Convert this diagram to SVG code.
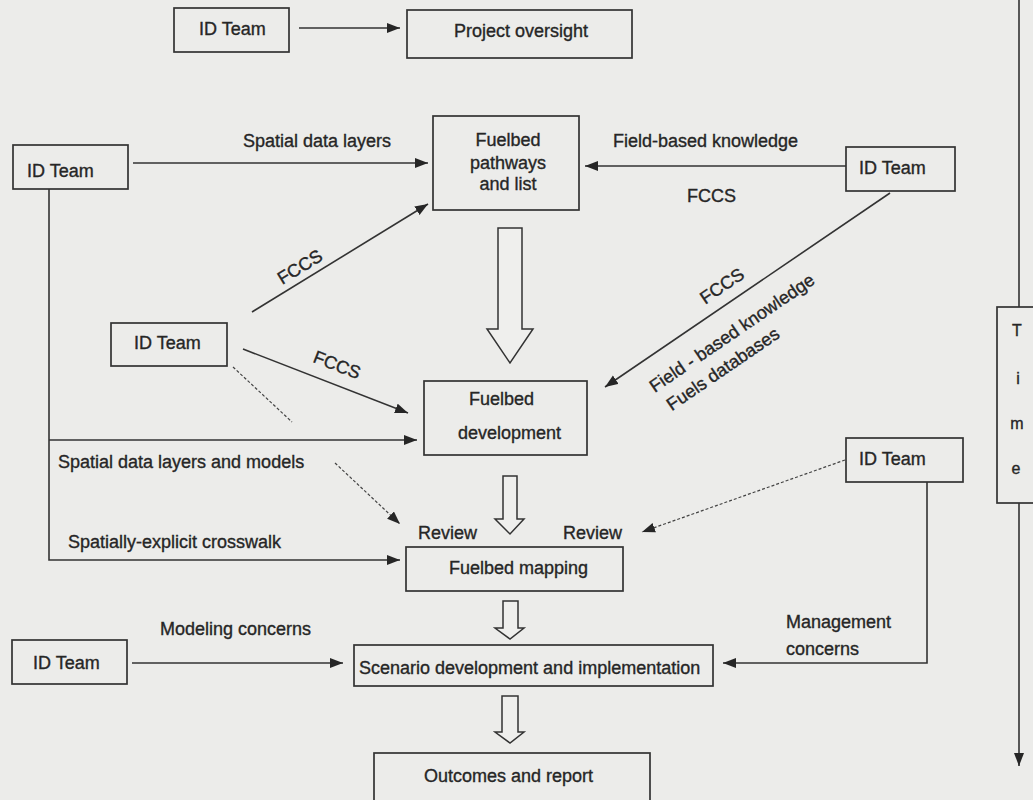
<svg xmlns="http://www.w3.org/2000/svg" width="1033" height="800" viewBox="0 0 1033 800">
<defs>
<marker id="ah" markerUnits="userSpaceOnUse" markerWidth="14" markerHeight="11" refX="13" refY="5" orient="auto">
<path d="M0,0 L13,5 L0,10 Z" fill="#262626"/>
</marker>
</defs>
<style>
text{font-family:"Liberation Sans",Arial,sans-serif;font-size:18px;fill:#262626;stroke:#262626;stroke-width:0.35}
.box{fill:none;stroke:#333;stroke-width:1.7}
.ln{fill:none;stroke:#333;stroke-width:1.6}
.dash{fill:none;stroke:#444;stroke-width:1.2;stroke-dasharray:3 2}
.blk{fill:#efefed;stroke:#333;stroke-width:1.5}
.m{text-anchor:middle}
</style>
<rect width="1033" height="800" fill="#ececea"/>

<g id="connectors">
<line class="ln" x1="299" y1="28" x2="400" y2="28" marker-end="url(#ah)"/>
<line class="ln" x1="133" y1="163" x2="428" y2="163" marker-end="url(#ah)"/>
<line class="ln" x1="846" y1="166" x2="585" y2="166" marker-end="url(#ah)"/>
<line class="ln" x1="890" y1="193" x2="605" y2="387" marker-end="url(#ah)"/>
<line class="ln" x1="252" y1="312" x2="428" y2="204" marker-end="url(#ah)"/>
<line class="ln" x1="243" y1="349" x2="408" y2="413" marker-end="url(#ah)"/>
<line class="dash" x1="233" y1="367" x2="292" y2="422"/>
<polyline class="ln" points="49,189 49,560 400,560" marker-end="url(#ah)"/>
<line class="ln" x1="49" y1="440" x2="417" y2="440" marker-end="url(#ah)"/>
<line class="dash" x1="335" y1="463" x2="400" y2="524" marker-end="url(#ah)"/>
<line class="dash" x1="845" y1="460" x2="642" y2="532" marker-end="url(#ah)"/>
<polyline class="ln" points="927,482 927,663 723,663" marker-end="url(#ah)"/>
<line class="ln" x1="132" y1="663" x2="343" y2="663" marker-end="url(#ah)"/>
<line class="ln" x1="1019" y1="0" x2="1019" y2="307"/>
<line class="ln" x1="1019" y1="503" x2="1019" y2="766" marker-end="url(#ah)"/>
<path class="blk" d="M498,228 H522 V329 H533 L510,363 L487,329 H498 Z"/>
<path class="blk" d="M503,476 H517 V519 H524 L510,534 L495,519 H503 Z"/>
<path class="blk" d="M503,601 H518 V628 H524 L510,639 L495,628 H503 Z"/>
<path class="blk" d="M502,696 H518 V732 H524 L510,743 L495,732 H502 Z"/>
</g>

<g id="labels">
<text x="243" y="147">Spatial data layers</text>
<text x="613" y="147">Field-based knowledge</text>
<text x="687" y="202">FCCS</text>
<text class="m" transform="translate(300,267) rotate(-31.5)" y="6">FCCS</text>
<text class="m" transform="translate(337,365) rotate(21.2)" y="6">FCCS</text>
<text class="m" transform="translate(722,286) rotate(-34.3)" y="6">FCCS</text>
<text class="m" transform="translate(732,333) rotate(-34.3)" y="6">Field - based knowledge</text>
<text class="m" transform="translate(723,369) rotate(-34.3)" y="6">Fuels databases</text>
<text x="58" y="468">Spatial data layers and models</text>
<text x="68" y="548">Spatially-explicit crosswalk</text>
<text x="418" y="539">Review</text>
<text x="563" y="539">Review</text>
<text x="786" y="628">Management</text>
<text x="786" y="655">concerns</text>
<text x="160" y="635">Modeling concerns</text>
</g>

<g id="id-team-top"><rect class="box" x="174" y="8" width="115" height="44"/><text x="199" y="35">ID Team</text></g>
<g id="project-oversight"><rect class="box" x="407" y="10" width="225" height="48"/><text class="m" x="521" y="37">Project oversight</text></g>
<g id="id-team-left"><rect class="box" x="13" y="145" width="115" height="44"/><text x="27" y="177">ID Team</text></g>
<g id="fuelbed-pathways"><rect class="box" x="433" y="116" width="146" height="94"/><text class="m" x="508" y="146">Fuelbed</text><text class="m" x="508" y="169">pathways</text><text class="m" x="508" y="190">and list</text></g>
<g id="id-team-right"><rect class="box" x="846" y="147" width="109" height="44"/><text x="859" y="174">ID Team</text></g>
<g id="id-team-mid"><rect class="box" x="111" y="323" width="116" height="43"/><text x="134" y="349">ID Team</text></g>
<g id="fuelbed-development"><rect class="box" x="424" y="381" width="163" height="74"/><text x="469" y="405">Fuelbed</text><text x="458" y="439">development</text></g>
<g id="id-team-right-lower"><rect class="box" x="846" y="438" width="117" height="44"/><text x="859" y="465">ID Team</text></g>
<g id="fuelbed-mapping"><rect class="box" x="406" y="547" width="217" height="44"/><text x="449" y="574">Fuelbed mapping</text></g>
<g id="id-team-bottom"><rect class="box" x="12" y="640" width="115" height="44"/><text x="33" y="669">ID Team</text></g>
<g id="scenario"><rect class="box" x="354" y="645" width="359" height="41"/><text x="359" y="674">Scenario development and implementation</text></g>
<g id="outcomes"><rect class="box" x="374" y="753" width="276" height="60"/><text x="424" y="782">Outcomes and report</text></g>
<g id="time"><rect class="box" x="997" y="307" width="45" height="196"/>
<text class="m" x="1017" y="336" style="font-size:16px">T</text>
<text class="m" x="1018" y="384" style="font-size:16px">i</text>
<text class="m" x="1017" y="429" style="font-size:16px">m</text>
<text class="m" x="1016" y="474" style="font-size:16px">e</text></g>
</svg>
